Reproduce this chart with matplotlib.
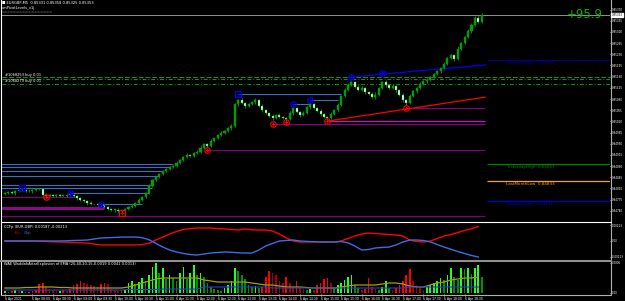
import numpy as np
import pandas as pd
import matplotlib
matplotlib.use("Agg")
import matplotlib.pyplot as plt
from matplotlib.lines import Line2D

W, H = 625, 301

# ---- EURGBP M5 candles ----
first_open = 0.84793
closes = [
    0.84796, 0.84799, 0.84796, 0.84802, 0.84805, 0.84805, 0.84802, 0.84802, 0.84805, 0.84808,
    0.84808, 0.84790, 0.84787, 0.84790, 0.84787, 0.84790, 0.84787, 0.84787, 0.84790, 0.84790,
    0.84787, 0.84780, 0.84774, 0.84771, 0.84765, 0.84761, 0.84761, 0.84758, 0.84761, 0.84752,
    0.84746, 0.84743, 0.84743, 0.84740, 0.84740, 0.84746, 0.84752, 0.84755, 0.84765, 0.84774,
    0.84783, 0.84796, 0.84818, 0.84837, 0.84846, 0.84855, 0.84865, 0.84871, 0.84877, 0.84880,
    0.84890, 0.84899, 0.84909, 0.84915, 0.84912, 0.84921, 0.84924, 0.84937, 0.84949, 0.84943,
    0.84959, 0.84968, 0.84977, 0.84984, 0.84990, 0.84999, 0.85006, 0.85074, 0.85087, 0.85078,
    0.85068, 0.85074, 0.85081, 0.85087, 0.85068, 0.85056, 0.85046, 0.85037, 0.85031, 0.85040,
    0.85034, 0.85031, 0.85028, 0.85046, 0.85062, 0.85049, 0.85040, 0.85046, 0.85065, 0.85074,
    0.85062, 0.85053, 0.85043, 0.85034, 0.85031, 0.85043, 0.85056, 0.85071, 0.85100, 0.85118,
    0.85134, 0.85143, 0.85128, 0.85118, 0.85125, 0.85112, 0.85106, 0.85096, 0.85103, 0.85125,
    0.85143, 0.85134, 0.85125, 0.85131, 0.85118, 0.85103, 0.85087, 0.85078, 0.85100, 0.85115,
    0.85125, 0.85137, 0.85146, 0.85150, 0.85159, 0.85168, 0.85178, 0.85187, 0.85200, 0.85218,
    0.85228, 0.85215, 0.85247, 0.85265, 0.85284, 0.85303, 0.85322, 0.85344, 0.85331, 0.85353,
]
# wicks in points (0.00001)
wick_up = [3,2,4,3,6,2,3,5,2,4, 3,2,5,3,2,4,3,2,6,3, 2,3,4,2,3,5,2,4,3,2, 3,4,2,5,3,2,4,6,3,5,
           4,3,6,4,3,5,4,2,3,4, 5,3,4,6,2,3,5,8,3,4, 6,3,4,5,3,4,6,5,4,7, 3,5,4,6,3,8,4,3,5,4,
           6,3,4,7,5,3,4,6,4,3, 5,4,6,3,4,5,3,6,4,5, 7,4,3,6,5,4,3,5,8,4, 3,6,4,5,3,4,6,3,5,4,
           3,5,4,6,3,5,4,3,6,5, 4,3,8,5,4,6,7,5,9,6]
wick_dn = [2,4,3,5,2,3,4,2,6,3, 4,8,3,2,4,3,5,2,3,4, 3,5,2,4,6,3,4,2,5,3, 4,3,5,6,8,3,2,4,3,2,
           3,4,2,3,5,2,3,4,2,3, 4,2,3,5,4,3,2,4,3,7, 3,4,2,3,4,3,5,4,6,3, 5,4,3,6,4,5,3,4,6,5,
           3,4,6,3,5,4,6,3,4,5, 3,4,5,3,6,4,3,5,4,3, 4,3,5,4,3,6,4,3,5,4, 3,5,4,3,6,4,5,7,3,4,
           5,3,4,5,3,4,3,5,4,3, 4,5,3,4,3,4,5,3,4,3]

# pivot / swing levels: (price, start bar, end bar)
support_lines = [(0.84783, -2, 21), (0.84724, -2, 140), (0.84931, 59, 140),
                 (0.85012, 78, 140), (0.85062, 117, 140)]
support_band = (0.84749, -2, 29)
magenta_line = (0.85021, 94, 140)
resist_lines = [(0.84887, -2, 49), (0.84878, -2, 48), (0.84865, -2, 46), (0.84849, -2, 45),
                (0.84821, -2, 43), (0.84812, -2, 43), (0.84796, 19, 42), (0.84761, 28, 40),
                (0.85106, 68, 98), (0.85074, 84, 89), (0.85087, 89, 97)]
high_circles = [(19, 0.84796), (28, 0.84761), (84, 0.85074), (89, 0.85087), (101, 0.85159), (110, 0.85171)]
high_boxes = [(5, 0.84812), (68, 0.85106)]
low_circles = [(12, 0.84783), (59, 0.84931), (78, 0.85012), (82, 0.85018), (94, 0.85021), (117, 0.85062)]
low_boxes = [(34, 0.84733)]
blue_trend = [(101, 0.85159), (140, 0.85197)]
red_trend = [(94, 0.85021), (140, 0.85096)]
order_lines = [0.85159, 0.85153, 0.85137]
order_labels = ["#1068253 buy 0.01", "#1068279 buy 0.01"]

level_names = ["LastWeekHigh", "YesterdayHigh", "LastMonthLow", "LastWeekLow"]
level_prices = [0.85212, 0.84887, 0.84833, 0.84771]
level_colors = ["#000080", "#008000", "#FFA500", "#0000CD"]

profit_text = "+95.9"

# ---- CCFp (every 2nd bar) ----
ccf_x = list(range(0, 140, 2))
eur = [0, 0, 0, 0, 0, -0.00004, -0.00007, -0.00011, -0.00013, -0.00016,
       -0.00020, -0.00023, -0.00027, -0.00040, -0.00053, -0.00053, -0.00053, -0.00053, -0.00053, -0.00053,
       -0.00047, -0.00029, 0.00013, 0.00053, 0.00093, 0.00126, 0.00153, 0.00166, 0.00173, 0.00173,
       0.00173, 0.00166, 0.00160, 0.00153, 0.00146, 0.00160, 0.00149, 0.00146, 0.00146, 0.00133,
       0.00093, 0.00040, 0.00000, -0.00013, -0.00013, -0.00013, -0.00013, -0.00013, -0.00013, 0.00000,
       0.00033, 0.00067, 0.00093, 0.00106, 0.00100, 0.00093, 0.00086, 0.00080, 0.00067, 0.00013,
       -0.00007, -0.00013, 0.00000, 0.00033, 0.00067, 0.00086, 0.00113, 0.00140, 0.00166, 0.00193]
gbp = [0, 0, 0, 0, 0, 0, 0, 0, 0, 0.00003,
       0.00007, 0.00009, 0.00013, 0.00027, 0.00040, 0.00044, 0.00048, 0.00052, 0.00053, 0.00053,
       0.00044, 0.00017, -0.00033, -0.00080, -0.00120, -0.00146, -0.00166, -0.00180, -0.00186, -0.00173,
       -0.00160, -0.00153, -0.00146, -0.00150, -0.00157, -0.00160, -0.00160, -0.00120, -0.00067, -0.00033,
       0.00000, 0.00007, 0.00013, 0.00000, -0.00005, -0.00009, -0.00013, -0.00013, -0.00013, -0.00007,
       -0.00024, -0.00067, -0.00120, -0.00113, -0.00093, -0.00086, -0.00080, -0.00053, -0.00013, 0.00013,
       0.00013, 0.00007, -0.00013, -0.00047, -0.00080, -0.00110, -0.00140, -0.00166, -0.00193, -0.00213]

# ---- Waddah Attar Explosion ----
trend = [0.00004, 0.00002, -0.00004, 0.00006, -0.00004, 0.00004, 0.00002, -0.00002, -0.00004, -0.00006,
         -0.00018, -0.00020, -0.00012, -0.00008, -0.00006, -0.00004, 0.00004, -0.00006, -0.00004, -0.00008,
         -0.00016, -0.00018, -0.00024, -0.00020, -0.00018, -0.00016, -0.00014, -0.00012, -0.00018, -0.00020,
         -0.00018, -0.00008, -0.00006, -0.00004, -0.00006, 0.00006, 0.00020, 0.00024, 0.00018, 0.00022,
         0.00030, 0.00024, 0.00036, 0.00052, 0.00060, 0.00040, 0.00050, 0.00028, 0.00036, 0.00030,
         0.00024, 0.00040, 0.00052, 0.00028, 0.00040, 0.00056, 0.00036, 0.00040, 0.00032, 0.00020,
         0.00012, 0.00008, 0.00006, 0.00004, 0.00010, 0.00016, 0.00024, 0.00050, 0.00044, 0.00036,
         0.00028, 0.00016, 0.00012, 0.00014, 0.00010, -0.00012, -0.00032, -0.00044, -0.00040, -0.00036,
         -0.00024, -0.00020, -0.00032, -0.00020, -0.00012, -0.00024, -0.00010, -0.00008, 0.00006, 0.00008,
         -0.00006, -0.00016, -0.00020, -0.00028, -0.00030, -0.00020, 0.00010, 0.00016, 0.00020, 0.00026,
         0.00032, 0.00036, 0.00016, 0.00010, -0.00006, -0.00008, -0.00030, -0.00012, -0.00008, 0.00006,
         0.00012, 0.00024, 0.00010, -0.00006, -0.00010, -0.00016, -0.00024, -0.00036, -0.00048, -0.00024,
         -0.00016, -0.00010, -0.00006, 0.00012, 0.00016, 0.00020, 0.00024, 0.00030, 0.00026, 0.00036,
         0.00050, 0.00032, 0.00026, 0.00050, 0.00048, 0.00050, 0.00038, 0.00050, 0.00056, 0.00032]
explosion = [0.00010, 0.00010, 0.00010, 0.00011, 0.00011, 0.00012, 0.00012, 0.00012, 0.00011, 0.00011,
             0.00010, 0.00010, 0.00010, 0.00010, 0.00010, 0.00010, 0.00010, 0.00010, 0.00012, 0.00016,
             0.00020, 0.00024, 0.00028, 0.00030, 0.00030, 0.00030, 0.00030, 0.00030, 0.00030, 0.00026,
             0.00024, 0.00022, 0.00022, 0.00022, 0.00022, 0.00022, 0.00020, 0.00018, 0.00016, 0.00016,
             0.00014, 0.00012, 0.00012, 0.00012, 0.00011, 0.00010, 0.00010, 0.00010, 0.00010, 0.00012,
             0.00014, 0.00016, 0.00016, 0.00016, 0.00016, 0.00018, 0.00020, 0.00020, 0.00018, 0.00014,
             0.00012, 0.00012, 0.00016, 0.00020, 0.00022, 0.00026, 0.00028, 0.00030, 0.00030, 0.00032]
deadzone = [0.00006, 0.00006, 0.00006, 0.00006, 0.00006, 0.00006, 0.00006, 0.00006, 0.00006, 0.00006,
            0.00006, 0.00006, 0.00006, 0.00006, 0.00006, 0.00006, 0.00006, 0.00006, 0.00007, 0.00007,
            0.00007, 0.00007, 0.00007, 0.00008, 0.00008, 0.00008, 0.00008, 0.00008, 0.00008, 0.00012,
            0.00012, 0.00012, 0.00012, 0.00012, 0.00012, 0.00012, 0.00012, 0.00012, 0.00012, 0.00010,
            0.00010, 0.00010, 0.00010, 0.00010, 0.00010, 0.00010, 0.00010, 0.00010, 0.00010, 0.00010,
            0.00010, 0.00010, 0.00010, 0.00010, 0.00010, 0.00010, 0.00010, 0.00010, 0.00010, 0.00012,
            0.00012, 0.00012, 0.00012, 0.00012, 0.00012, 0.00012, 0.00012, 0.00012, 0.00012, 0.00012]

start_time = "2021-04-06 07:20"

# ------------------------------------------------------------------
n = len(closes)
x = np.arange(n)
opens = np.array([first_open] + closes[:-1])
closes_a = np.array(closes)
highs = np.maximum(opens, closes_a) + np.array(wick_up) * 1e-5
lows = np.minimum(opens, closes_a) - np.array(wick_dn) * 1e-5

def box(x0, y0, x1, y1):
    return [x0 / W, 1 - y1 / H, (x1 - x0) / W, (y1 - y0) / H]

fig = plt.figure(figsize=(W / 100, H / 100), dpi=100, facecolor="black")
ax = fig.add_axes(box(2, 0, 610, 221), facecolor="black")
ax2 = fig.add_axes(box(2, 222, 610, 260), facecolor="black", sharex=ax)
ax3 = fig.add_axes(box(2, 261, 610, 294), facecolor="black", sharex=ax)

bar_px = 3.43
xlim = (-3 / bar_px, -3 / bar_px + 608 / bar_px)
px_price = 0.0000313
ylim = (0.85400 - 221 * px_price, 0.85400)

# candles
green = "#00A000"
ax.vlines(x, lows, highs, color=green, lw=0.6, zorder=3)
up = closes_a >= opens
body_h = np.maximum(np.abs(closes_a - opens), 0.000015)
ax.bar(x[up], body_h[up], bottom=np.minimum(opens, closes_a)[up], width=0.6,
       color=green, edgecolor=green, lw=0.3, zorder=4)
ax.bar(x[~up], body_h[~up], bottom=np.minimum(opens, closes_a)[~up], width=0.6,
       color="white", edgecolor=green, lw=0.3, zorder=4)

# order lines and bid line
for i, p in enumerate(order_lines):
    ls = (0, (5, 2)) if i == 0 else (0, (4, 2, 1, 2))
    ax.axhline(p, color="#00A000", lw=0.7, ls=ls, zorder=2)
for i, t in enumerate(order_labels):
    ax.text(0, order_lines[i] + 0.00002 - i * 0.00012, t, color="white", fontsize=2.6, zorder=6)
ax.axhline(closes[-1], color="#909090", lw=0.7, zorder=2)

# swing lines
for p, a, b in resist_lines:
    ax.hlines(p, a, b, color="#3A6FC0", lw=0.8, zorder=2)
for p, a, b in support_lines:
    ax.hlines(p, a, b, color="#800080", lw=0.8, zorder=2)
ax.hlines(support_band[0], support_band[1], support_band[2], color="#8A0A8A", lw=2.2, zorder=2)
ax.hlines(magenta_line[0], magenta_line[1], magenta_line[2], color="#E000E0", lw=0.8, zorder=2)
ax.plot([p[0] for p in blue_trend], [p[1] for p in blue_trend], color="#0000FF", lw=0.9, zorder=2)
ax.plot([p[0] for p in red_trend], [p[1] for p in red_trend], color="#FF0000", lw=0.9, zorder=2)

for bx, by in high_circles:
    ax.plot(bx, by, "o", mfc="none", mec="#0000FF", ms=4, mew=0.8, zorder=5)
    ax.plot(bx, by, "+", color="#0000FF", ms=3, mew=0.6, zorder=5)
for bx, by in high_boxes:
    ax.plot(bx, by, "s", mfc="none", mec="#0000FF", ms=5, mew=0.8, zorder=5)
    ax.plot(bx, by, "+", color="#0000FF", ms=3, mew=0.6, zorder=5)
for bx, by in low_circles:
    ax.plot(bx, by, "o", mfc="none", mec="#FF0000", ms=4, mew=0.8, zorder=5)
    ax.plot(bx, by, "+", color="#FF0000", ms=3, mew=0.6, zorder=5)
for bx, by in low_boxes:
    ax.plot(bx, by, "s", mfc="none", mec="#FF0000", ms=5, mew=0.8, zorder=5)
    ax.plot(bx, by, "+", color="#FF0000", ms=3, mew=0.6, zorder=5)

# daily/weekly levels on the right
for name, p, c in zip(level_names, level_prices, level_colors):
    ax.hlines(p, 140.5, xlim[1], color=c, lw=0.9, zorder=2)
    ax.text(146, p - 0.00003, "%s  %.5f" % (name, p), color=c, fontsize=3, va="top", zorder=6)

ax.set_xlim(*xlim)
ax.set_ylim(*ylim)
ticks = np.arange(0.85370, 0.84730, -0.00035)
ax.yaxis.tick_right()
ax.set_yticks(ticks)
ax.set_yticklabels(["%.5f" % t for t in ticks])
ax.tick_params(axis="y", colors="white", labelsize=2.0, length=1, width=0.5, pad=0.3)
ax.tick_params(axis="x", bottom=False, labelbottom=False)

# CCFp
ax2.plot(ccf_x, eur, color="#FF0000", lw=1.0)
ax2.plot(ccf_x, gbp, color="#3C6CE6", lw=1.0)
ax2.set_ylim(-0.00253, 0.00253)
ax2.yaxis.tick_right()
ax2.set_yticks([0.00213, 0, -0.00213])
ax2.set_yticklabels(["0.00213", "0.00", "-0.00213"])
ax2.tick_params(axis="y", colors="white", labelsize=2.0, length=1, width=0.5, pad=0.3)
ax2.tick_params(axis="x", bottom=False, labelbottom=False)
ax2.text(0.003, 0.93, "CCFp (EUR,GBP) 0.00187 -0.00213", transform=ax2.transAxes,
         color="white", fontsize=2.6, va="top")
ax2.text(0.02, 0.76, "Eur", transform=ax2.transAxes, color="#FF0000", fontsize=2.6, va="top")
ax2.text(0.035, 0.76, "Gbp", transform=ax2.transAxes, color="#3C6CE6", fontsize=2.6, va="top")

# WAE histogram
tr = np.array(trend)
mag = np.abs(tr)
prev = np.concatenate([[0], mag[:-1]])
cols = []
for i in range(n):
    if tr[i] >= 0:
        cols.append("#22FF22" if mag[i] >= prev[i] else "#009000")
    else:
        cols.append("#FF0000" if mag[i] >= prev[i] else "#A00000")
ax3.bar(x, mag, width=0.5, color=cols, zorder=2)
ax3.plot(ccf_x, explosion, color="#A8A000", lw=0.9, zorder=3)
ax3.plot(ccf_x, deadzone, color="#2040E0", lw=0.8, zorder=3)
ax3.set_ylim(-0.00002, 0.00064)
ax3.yaxis.tick_right()
ax3.set_yticks([0.00060, 0.0])
ax3.set_yticklabels(["0.0006", "0.00"])
ax3.tick_params(axis="y", colors="white", labelsize=2.0, length=1, width=0.5, pad=0.3)
ax3.text(0.003, 0.97, "WAE WaddahAttarExplosion of EMA (20,40,20,15,0.0019 0.0041 0.0013)",
         transform=ax3.transAxes, color="white", fontsize=2.6, va="top")

# time axis
times = pd.date_range(start_time, periods=n, freq="5min")
tick_bars = [0] + list(range(8, n, 6))
tick_lbls = [times[0].strftime("%-d %b %Y")] + [times[b].strftime("%-d %b %H:%M") for b in tick_bars[1:]]
ax3.set_xticks(tick_bars)
ax3.set_xticklabels(tick_lbls)
ax3.tick_params(axis="x", colors="white", labelsize=2.2, length=1.5, width=0.5, pad=0.8)
for lbl in ax3.get_xticklabels():
    lbl.set_ha("left")

for a in (ax, ax2, ax3):
    for s in a.spines.values():
        s.set_visible(False)

# frame lines
def fline(x0, y0, x1, y1, c, lw):
    fig.add_artist(Line2D([x0 / W, x1 / W], [1 - y0 / H, 1 - y1 / H], color=c, lw=lw))

fline(1.5, 0, 1.5, 294, "white", 0.8)
fline(610.5, 0, 610.5, 294, "#B0B0B0", 0.8)
fline(1.5, 221.5, 610.5, 221.5, "white", 0.8)
fline(1.5, 260.5, 610.5, 260.5, "#909090", 1.5)
fline(1.5, 294.5, 610.5, 294.5, "#B0B0B0", 0.8)

# header texts
fig.text(2 / W, 1 - 3 / H, "\u25A0 EURGBP,M5  0.85331 0.85358 0.85325 0.85353", color="white",
         fontsize=2.6, va="center")
fig.text(2 / W, 1 - 7.5 / H, "xmPivotLevels_v1j", color="white", fontsize=2.6, va="center")
fig.text(2 / W, 1 - 12 / H, "=================", color="#A0A0A0", fontsize=2.6, va="center")
fig.text(603 / W, 1 - 14 / H, profit_text, color="#00B400", fontsize=8.5, ha="right", va="center")
fig.text(611.5 / W, 1 - 15 / H, "%.5f" % closes[-1], color="black", fontsize=2.0, va="center",
         bbox=dict(boxstyle="square,pad=0.15", fc="white", ec="white"))

fig.savefig("out.png", dpi=100, facecolor="black")
